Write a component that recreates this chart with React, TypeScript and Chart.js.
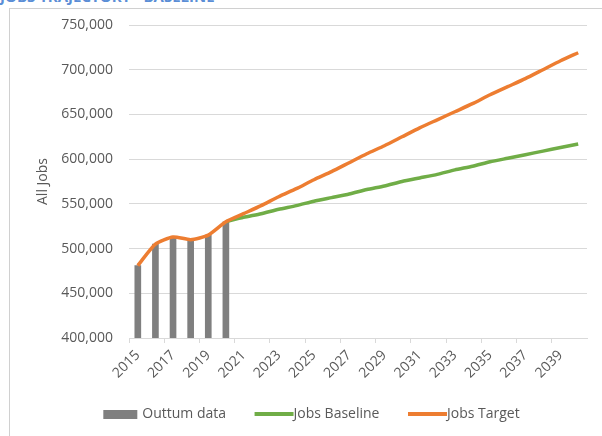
import React, { useEffect, useRef } from "react";
import { Chart, registerables } from "chart.js";

Chart.register(...registerables);

const years = [
  "2015", "2016", "2017", "2018", "2019", "2020", "2021", "2022", "2023",
  "2024", "2025", "2026", "2027", "2028", "2029", "2030", "2031", "2032",
  "2033", "2034", "2035", "2036", "2037", "2038", "2039", "2040",
];

const outturnData = [
  481000, 505000, 513000, 510000, 515000, 530000, null, null, null, null,
  null, null, null, null, null, null, null, null, null, null, null, null,
  null, null, null, null,
];

const jobsBaseline = [
  null, null, null, null, null, 530000, 535000, 539000, 544000, 548000,
  553000, 557000, 561000, 566000, 570000, 575000, 579000, 583000, 588000,
  592000, 597000, 601000, 605000, 609000, 613000, 617000,
];

const jobsTarget = [
  481000, 505000, 513000, 510000, 515000, 530000, 539000, 548000, 558000,
  567000, 577000, 586000, 596000, 606000, 615000, 625000, 635000, 644000,
  653000, 662000, 672000, 681000, 690000, 700000, 710000, 719000,
];

const yMin = 400000;
const yMax = 750000;
const yStep = 50000;

const seriesNames = ["Outtum data", "Jobs Baseline", "Jobs Target"];
const seriesColors = ["#7f7f7f", "#70ad47", "#ed7d31"];

const FONT = "'Open Sans', 'DejaVu Sans', sans-serif";
const TEXT = "#595959";
const GRID = "#d9d9d9";

function makeSwatch(
  w: number,
  h: number,
  color: string,
  x0: number,
  x1: number
): HTMLCanvasElement {
  const c = document.createElement("canvas");
  c.width = w;
  c.height = h;
  const ctx = c.getContext("2d")!;
  ctx.fillStyle = color;
  ctx.fillRect(x0, 0, x1 - x0, h);
  return c;
}

export default function App() {
  const canvasRef = useRef<HTMLCanvasElement | null>(null);

  useEffect(() => {
    if (!canvasRef.current) return;
    const swatches = [
      makeSwatch(46, 9, seriesColors[0], 10, 44),
      makeSwatch(54, 4, seriesColors[1], 14, 53),
      makeSwatch(54, 4, seriesColors[2], 14, 53),
    ];

    const chart = new Chart(canvasRef.current, {
      type: "bar",
      data: {
        labels: years,
        datasets: [
          {
            type: "bar",
            label: seriesNames[0],
            data: outturnData,
            backgroundColor: seriesColors[0],
            borderWidth: 0,
            barThickness: 6,
            order: 3,
          },
          {
            type: "line",
            label: seriesNames[1],
            data: jobsBaseline,
            borderColor: seriesColors[1],
            backgroundColor: seriesColors[1],
            borderWidth: 3.5,
            pointRadius: 0,
            tension: 0.2,
            fill: false,
            order: 2,
          },
          {
            type: "line",
            label: seriesNames[2],
            data: jobsTarget,
            borderColor: seriesColors[2],
            backgroundColor: seriesColors[2],
            borderWidth: 3.5,
            pointRadius: 0,
            tension: 0.2,
            fill: false,
            order: 1,
          },
        ],
      } as any,
      options: {
        animation: false,
        responsive: false,
        devicePixelRatio: 1,
        layout: { padding: { left: 30, right: 15, top: 25, bottom: 5 } },
        plugins: {
          tooltip: { enabled: false },
          legend: {
            position: "bottom",
            labels: {
              font: { family: FONT, size: 14 },
              color: TEXT,
              padding: 22.5,
              usePointStyle: true,
              pointStyleWidth: 38,
              sort: (a: any, b: any) => a.datasetIndex - b.datasetIndex,
              generateLabels: (c: any) => {
                const items = (Chart.defaults.plugins.legend.labels as any).generateLabels(c);
                return items.map((it: any) => ({
                  ...it,
                  pointStyle: swatches[it.datasetIndex],
                  fontColor: TEXT,
                }));
              },
            },
          },
        },
        scales: {
          x: {
            offset: true,
            grid: {
              display: true,
              drawOnChartArea: false,
              drawTicks: true,
              tickLength: 5,
              offset: true,
              color: (ctx: any) => (ctx.index % 2 === 0 ? GRID : "rgba(0,0,0,0)"),
            },
            border: { display: true, color: GRID, width: 1 },
            ticks: {
              autoSkip: false,
              minRotation: 45,
              maxRotation: 45,
              padding: 4,
              color: TEXT,
              font: { family: FONT, size: 14 },
              callback: (_v: any, i: number) => (i % 2 === 0 ? years[i] : ""),
            },
            afterFit: (scale: any) => {
              scale.height = 46.5;
            },
          },
          y: {
            min: yMin,
            max: yMax,
            grid: { color: GRID, lineWidth: 1, drawTicks: false },
            border: { display: false },
            ticks: {
              stepSize: yStep,
              padding: 16,
              color: TEXT,
              font: { family: FONT, size: 14 },
              callback: (v: any) => Number(v).toLocaleString("en-US"),
            },
            title: {
              display: true,
              text: "All Jobs",
              color: TEXT,
              font: { family: FONT, size: 14 },
              padding: { top: 4.6, bottom: 0 },
            },
            afterFit: (scale: any) => {
              scale.width = 99;
            },
          },
        },
      } as any,
    });

    return () => {
      chart.destroy();
    };
  }, []);

  return (
    <div
      style={{
        position: "fixed",
        left: 0,
        top: 0,
        width: 602,
        height: 436,
        overflow: "hidden",
        background: "#ffffff",
      }}
    >
      <div
        style={{
          position: "absolute",
          left: 0,
          top: -12,
          fontFamily: FONT,
          fontWeight: 700,
          fontSize: 15,
          lineHeight: "16px",
          color: "#5b8ed6",
          whiteSpace: "nowrap",
        }}
      >
        JOBS TRAJECTORY - BASELINE
      </div>
      <div
        style={{
          position: "absolute",
          left: 9,
          top: 8,
          width: 640,
          height: 470,
          border: "1px solid #d0d0d0",
        }}
      />
      <canvas
        ref={canvasRef}
        width={602}
        height={436}
        style={{ position: "absolute", left: 0, top: 0, width: 602, height: 436 }}
      />
    </div>
  );
}
